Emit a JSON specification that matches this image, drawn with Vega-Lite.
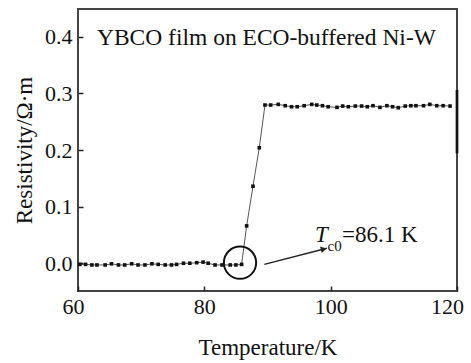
{
  "$schema": "https://vega.github.io/schema/vega-lite/v6.json",
  "autosize": "none",
  "width": 379,
  "height": 282,
  "padding": {"left": 78, "top": 9, "right": 14, "bottom": 72},
  "background": "white",
  "config": {
    "font": "serif",
    "view": {"stroke": "#444", "strokeWidth": 2},
    "axis": {
      "grid": false,
      "domain": false,
      "tickColor": "#222",
      "tickWidth": 1.5,
      "tickSize": -5,
      "labelFont": "serif",
      "labelFontSize": 22,
      "labelColor": "#111",
      "titleFont": "serif",
      "titleFontSize": 23,
      "titleFontWeight": "normal",
      "titleColor": "#111"
    }
  },
  "datasets": {
    "series": [
      {"T": 60.3, "R": -0.002}, {"T": 61.2, "R": -0.002}, {"T": 62.2, "R": -0.003},
      {"T": 63.0, "R": -0.003}, {"T": 64.3, "R": -0.003}, {"T": 65.3, "R": -0.001},
      {"T": 66.4, "R": -0.003}, {"T": 67.4, "R": -0.003}, {"T": 68.5, "R": -0.001},
      {"T": 69.5, "R": -0.003}, {"T": 70.6, "R": -0.003}, {"T": 71.7, "R": -0.001},
      {"T": 72.7, "R": -0.002}, {"T": 73.8, "R": -0.003}, {"T": 74.8, "R": -0.003},
      {"T": 75.6, "R": -0.002}, {"T": 76.7, "R": 0.0}, {"T": 77.7, "R": 0.0},
      {"T": 78.8, "R": 0.001}, {"T": 79.8, "R": 0.002}, {"T": 80.6, "R": 0.0},
      {"T": 81.7, "R": -0.003}, {"T": 82.8, "R": -0.003}, {"T": 84.1, "R": -0.003},
      {"T": 85.0, "R": -0.003}, {"T": 85.9, "R": -0.002},
      {"T": 86.7, "R": 0.066}, {"T": 87.7, "R": 0.136}, {"T": 88.7, "R": 0.204},
      {"T": 89.6, "R": 0.2794}, {"T": 90.5, "R": 0.2794}, {"T": 91.7, "R": 0.2806},
      {"T": 92.8, "R": 0.2782}, {"T": 93.8, "R": 0.2764}, {"T": 94.7, "R": 0.2764},
      {"T": 95.8, "R": 0.2782}, {"T": 97.0, "R": 0.2806}, {"T": 97.8, "R": 0.2794},
      {"T": 98.7, "R": 0.2782}, {"T": 99.6, "R": 0.2764}, {"T": 101.0, "R": 0.2753},
      {"T": 101.9, "R": 0.2776}, {"T": 102.8, "R": 0.2764}, {"T": 103.9, "R": 0.2776},
      {"T": 104.9, "R": 0.2776}, {"T": 105.8, "R": 0.2764}, {"T": 106.7, "R": 0.2782},
      {"T": 107.8, "R": 0.2753}, {"T": 108.9, "R": 0.2782}, {"T": 109.8, "R": 0.2764},
      {"T": 110.7, "R": 0.2747}, {"T": 111.8, "R": 0.2776}, {"T": 112.7, "R": 0.2782},
      {"T": 113.5, "R": 0.2782}, {"T": 114.7, "R": 0.2782}, {"T": 115.7, "R": 0.2806},
      {"T": 116.8, "R": 0.2782}, {"T": 117.8, "R": 0.2782}, {"T": 118.9, "R": 0.2776}
    ],
    "arrow": [{"T": 89.5, "R": -0.002}, {"T": 99.4, "R": 0.0265}],
    "head": [{"T": 98.9, "R": 0.025}],
    "circle": [{"T": 85.65, "R": 0.001}],
    "bar": [{"T": 120, "R": 0.194, "R2": 0.306}],
    "title": [{"T": 63.0, "R": 0.386, "text": "YBCO film on ECO-buffered Ni-W"}],
    "labels": [{"T": 101.8, "R": 0.0383, "text": "=86.1 K"}],
    "tsym": [{"T": 97.5, "R": 0.0383, "text": "T"}],
    "sub": [{"T": 99.5, "R": 0.0219, "text": "c0"}]
  },
  "encoding": {
    "x": {
      "field": "T", "type": "quantitative",
      "scale": {"domain": [60, 120], "nice": false, "zero": false},
      "axis": {
        "values": [60, 80, 100, 120], "title": "Temperature/K",
        "labelPadding": 10, "titlePadding": 19, "labelFlush": false,
        "labelOffset": {"condition": [{"test": "datum.value == 120", "value": -10}, {"test": "datum.value == 60", "value": -5}], "value": 0}
      }
    },
    "y": {
      "field": "R", "type": "quantitative",
      "scale": {"domain": [-0.049, 0.449], "nice": false, "zero": false},
      "axis": {"values": [0, 0.1, 0.2, 0.3, 0.4], "format": ".1f", "title": "Resistivity/Ω·m", "labelPadding": 11, "titlePadding": 8}
    }
  },
  "layer": [
    {
      "data": {"name": "series"},
      "mark": {"type": "line", "color": "#555", "strokeWidth": 1}
    },
    {
      "data": {"name": "series"},
      "mark": {"type": "point", "shape": "square", "filled": true, "color": "#111", "size": 13, "opacity": 1}
    },
    {
      "data": {"name": "arrow"},
      "mark": {"type": "line", "color": "#222", "strokeWidth": 1.5}
    },
    {
      "data": {"name": "head"},
      "mark": {"type": "point", "shape": "triangle-right", "filled": true, "color": "#222", "size": 45, "angle": 346, "opacity": 1}
    },
    {
      "data": {"name": "circle"},
      "mark": {"type": "point", "shape": "circle", "filled": false, "color": "#111", "strokeWidth": 2, "size": 1040, "opacity": 1}
    },
    {
      "data": {"name": "bar"},
      "mark": {"type": "rule", "color": "#111", "strokeWidth": 2.7},
      "encoding": {"y2": {"field": "R2"}}
    },
    {
      "data": {"name": "title"},
      "mark": {"type": "text", "align": "left", "baseline": "alphabetic", "fontSize": 23.5, "fill": "#111", "font": "serif"},
      "encoding": {"text": {"field": "text"}}
    },
    {
      "data": {"name": "labels"},
      "mark": {"type": "text", "align": "left", "baseline": "alphabetic", "fontSize": 23, "fill": "#111", "font": "serif"},
      "encoding": {"text": {"field": "text"}}
    },
    {
      "data": {"name": "tsym"},
      "mark": {"type": "text", "align": "left", "baseline": "alphabetic", "fontSize": 23, "fontStyle": "italic", "fill": "#111", "font": "serif"},
      "encoding": {"text": {"field": "text"}}
    },
    {
      "data": {"name": "sub"},
      "mark": {"type": "text", "align": "left", "baseline": "alphabetic", "fontSize": 15, "fill": "#111", "font": "serif"},
      "encoding": {"text": {"field": "text"}}
    }
  ]
}
